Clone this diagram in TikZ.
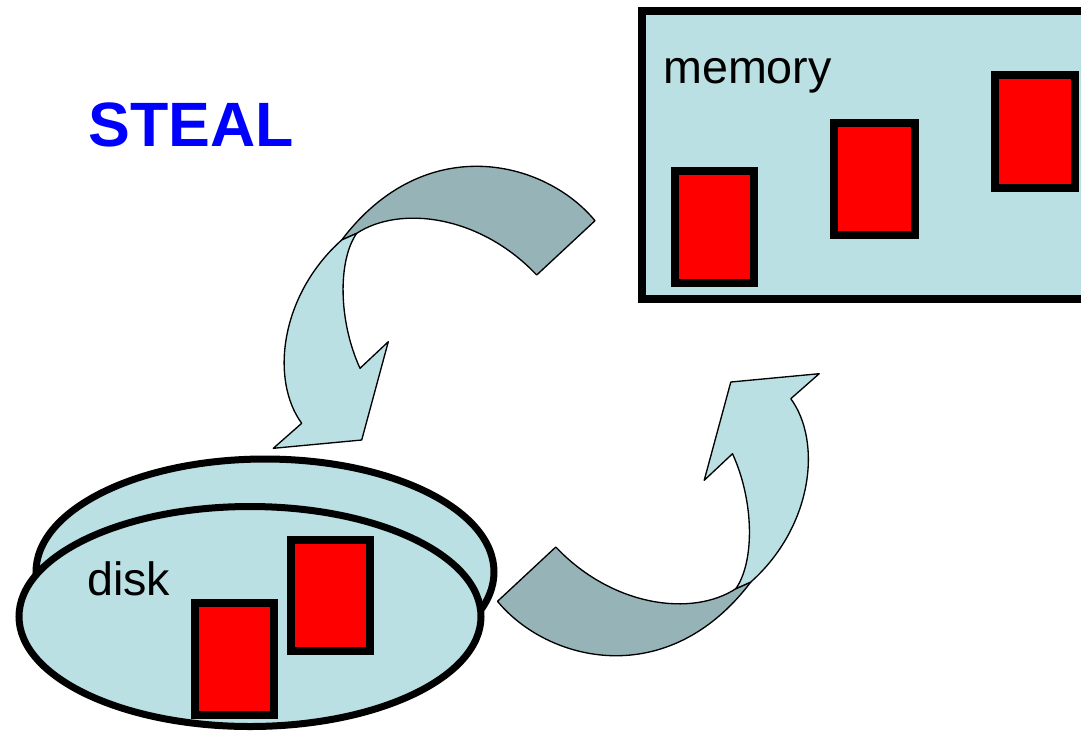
\documentclass[tikz,border=0pt]{standalone}
\usepackage{fontspec}
\setmainfont{Liberation Sans}
\definecolor{paneblue}{RGB}{186,224,228}
\definecolor{banddark}{RGB}{150,179,184}
\definecolor{titleblue}{RGB}{0,0,255}
\tikzset{
  % curved block arrow: a dark band rising from the right, turning into a light band that points down
  swoop/.pic={
    \draw[bandback]
      (595,220.7) .. controls (545,160) and (425,130) .. (341.7,240)
      -- (356.7,233.3) .. controls (400,205) and (480,215) .. (536.7,275)
      -- cycle;
    \draw[bandfront]
      (341.7,240) .. controls (280,295) and (270,380) .. (301.7,423.3)
      -- (273.3,448.3) -- (361.7,440) -- (388.3,341.7) -- (360,368.3)
      .. controls (338,320) and (338,260) .. (356.7,233.3)
      -- cycle;
  }
}
\begin{document}
\begin{tikzpicture}[x=0.75pt,y=-0.75pt,
  pane/.style={fill=paneblue, draw=black, line width=5.75pt},
  platter/.style={fill=paneblue, draw=black, line width=5.25pt},
  page/.style={fill=red, draw=black, line width=5.75pt},
  bandback/.style={fill=banddark, draw=black, line width=1pt, line join=round},
  bandfront/.style={fill=paneblue, draw=black, line width=1pt, line join=round},
  label/.style={inner sep=0pt, anchor=base west, font=\fontsize{35}{40}\selectfont}]
\useasboundingbox (0,0) rectangle (1081,733);
\begin{scope}
\clip (0,0) rectangle (1081,733);

% title
\node[inner sep=0pt, anchor=base west, text=titleblue,
      font=\fontsize{47}{52}\selectfont\bfseries] (title) at (88,146) {STEAL};

% memory with three pages
\draw[pane] (642,11) rectangle (1100,299);
\node[label] (memlabel) at (663,83) {memory};
\draw[page] (674.7,171.3) rectangle (754.3,283.3);
\draw[page] (834.3,123) rectangle (914.7,235.3);
\draw[page] (994.7,75.3) rectangle (1074.7,187.7);

% disk: two stacked platters with two pages
\draw[platter] (265,572) ellipse [x radius=229, y radius=113];
\draw[platter] (250,616.5) ellipse [x radius=231, y radius=110];
\node[label] (disklabel) at (87,595) {disk};
\draw[page] (290.7,539.7) rectangle (370,651);
\draw[page] (194.7,603.3) rectangle (274.3,715.3);

% flush from memory to disk, and fetch from disk to memory
\pic {swoop};
\begin{scope}[rotate around={180:(546.25,411)}]
  \pic[transform shape] {swoop};
\end{scope}
\end{scope}
\end{tikzpicture}
\end{document}
